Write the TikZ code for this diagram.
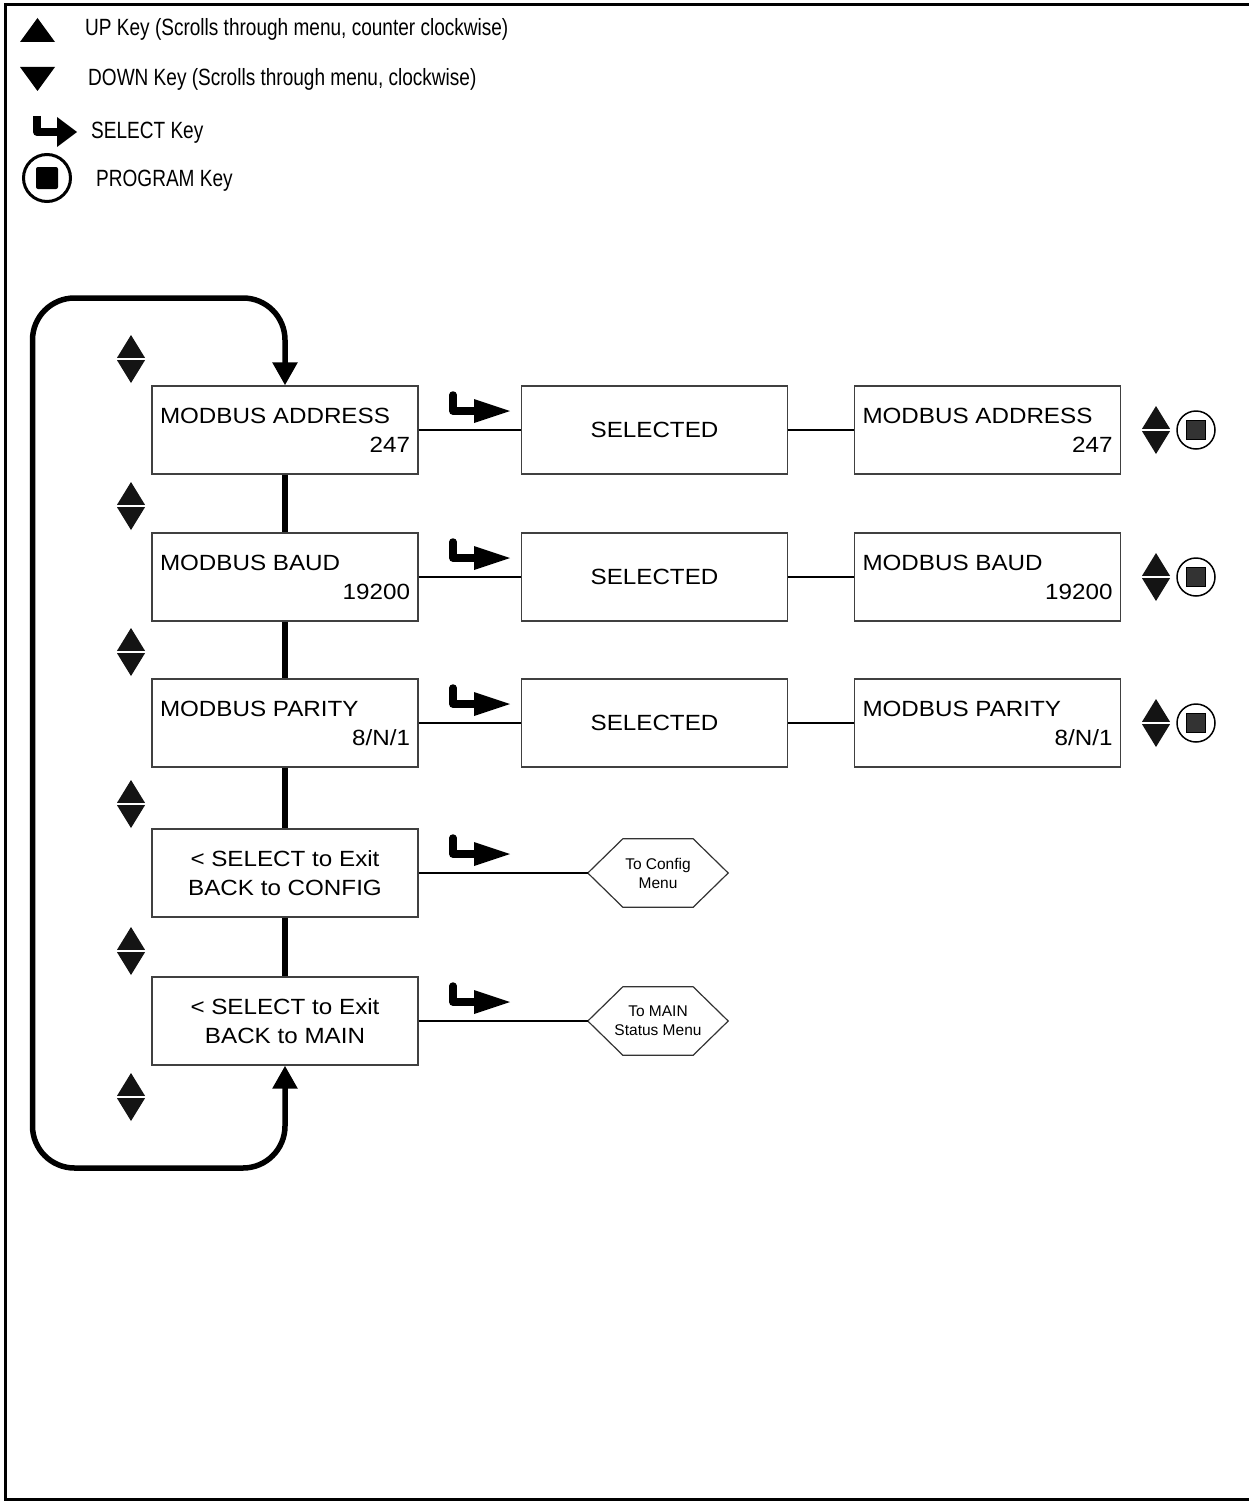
\documentclass[tikz,border=0pt]{standalone}
\usepackage{fontspec}
\setmainfont{Liberation Sans}
\newfontfamily\legfont[FakeStretch=0.81]{Liberation Sans}
\newfontfamily\boxfont[FakeStretch=1.1]{Liberation Sans}
\usetikzlibrary{arrows.meta}
\newcommand\boxlines[2]{\makebox[250pt][l]{#1}\\\makebox[250pt][r]{#2}}
\newcommand\updownkey[2]{%
  \fill[black!92] (#1-14,#2-1.2) -- (#1,#2-24) -- (#1+14,#2-1.2) -- cycle;
  \fill[black!92] (#1-14,#2+1.2) -- (#1,#2+24) -- (#1+14,#2+1.2) -- cycle;}
\newcommand\selkey[1]{%
  \draw[line width=7.5pt, line cap=round, line join=round] (453,#1-35) -- (453,#1-19) -- (476,#1-19);
  \fill (474,#1-31) -- (510,#1-19) -- (474,#1-7) -- cycle;}
\newcommand\progkey[1]{%
  \draw[line width=1.5pt] (1196,#1) circle[radius=19pt];
  \filldraw[fill=black!80, draw=black, line width=0.8pt] (1186.5,#1-9.5) rectangle (1205.5,#1+9.5);}
\begin{document}
\begin{tikzpicture}[x=1pt,y=-1pt,
  menubox/.style={draw=black!75, line width=1.3pt, minimum width=266pt, minimum height=88pt,
    inner sep=0pt, align=center, font=\boxfont\fontsize{22}{29}\selectfont},
  hexnode/.style={minimum width=140pt, minimum height=68pt, inner sep=0pt, align=center,
    font=\fontsize{15.5}{19}\selectfont},
  thinline/.style={line width=1.2pt},
  thickline/.style={line width=5.5pt},
  legtext/.style={anchor=base west, inner sep=0pt, font=\legfont\fontsize{23.5}{26}\selectfont},
  bigtip/.tip={Triangle[length=23pt,width=24pt]}]
\useasboundingbox (0,0) rectangle (1249,1501);
% border
\draw[line width=3.3pt] (1249,4.3) -- (5.5,4.3) -- (5.5,1500) -- (1249,1500);
% legend
\fill (20,42) -- (37.5,18) -- (55,42) -- cycle;
\fill (20,67) -- (37.5,91) -- (55,67) -- cycle;
\draw[line width=8pt, line join=round] (37,116) -- (37,132) -- (58,132);
\fill (57,117) -- (77,132) -- (57,147) -- cycle;
\draw[line width=3pt] (47,178) circle[radius=23.5pt];
\fill[rounded corners=2pt] (36,167) rectangle (58,189);
\node[legtext] (lup) at (85,36) {UP Key (Scrolls through menu, counter clockwise)};
\node[legtext] (ldown) at (88,86) {DOWN Key (Scrolls through menu, clockwise)};
\node[legtext] (lsel) at (91,139) {SELECT Key};
\node[legtext] (lprog) at (96,186) {PROGRAM Key};
% left column
\node[menubox] (b1) at (285,430) {\boxlines{MODBUS ADDRESS}{247}};
\node[menubox] (b2) at (285,577) {\boxlines{MODBUS BAUD}{19200}};
\node[menubox] (b3) at (285,723) {\boxlines{MODBUS PARITY}{8/N/1}};
\node[menubox] (b4) at (285,873) {{\textless} SELECT to Exit\\BACK to CONFIG};
\node[menubox] (b5) at (285,1021) {{\textless} SELECT to Exit\\BACK to MAIN};
% middle column
\node[menubox] (s1) at (654.5,430) {SELECTED};
\node[menubox] (s2) at (654.5,577) {SELECTED};
\node[menubox] (s3) at (654.5,723) {SELECTED};
% right column
\node[menubox] (r1) at (987.5,430) {\boxlines{MODBUS ADDRESS}{247}};
\node[menubox] (r2) at (987.5,577) {\boxlines{MODBUS BAUD}{19200}};
\node[menubox] (r3) at (987.5,723) {\boxlines{MODBUS PARITY}{8/N/1}};
% hexagons
\node[hexnode] (h4) at (658,873) {To Config\\Menu};
\node[hexnode] (h5) at (658,1021) {To MAIN\\Status Menu};
\foreach \h in {h4,h5}{
  \draw[draw=black!80, line width=1.2pt] (\h.west) -- ([xshift=35pt]\h.north west) -- ([xshift=-35pt]\h.north east)
    -- (\h.east) -- ([xshift=-35pt]\h.south east) -- ([xshift=35pt]\h.south west) -- cycle;}
% thin connectors
\draw[thinline] (b1.east) -- (s1.west);
\draw[thinline] (s1.east) -- (r1.west);
\draw[thinline] (b2.east) -- (s2.west);
\draw[thinline] (s2.east) -- (r2.west);
\draw[thinline] (b3.east) -- (s3.west);
\draw[thinline] (s3.east) -- (r3.west);
\draw[thinline] (b4.east) -- (h4.west);
\draw[thinline] (b5.east) -- (h5.west);
% thick vertical connectors
\draw[thickline] (b1.south) -- (b2.north);
\draw[thickline] (b2.south) -- (b3.north);
\draw[thickline] (b3.south) -- (b4.north);
\draw[thickline] (b4.south) -- (b5.north);
% loop
\coordinate (lt) at (32.5,298);
\coordinate (lb) at (32.5,1168);
\draw[thickline, rounded corners=42pt, bigtip-bigtip] (b1.north) |- (lt) -- (lb) -| (b5.south);
% select keys
\selkey{430}
\selkey{577}
\selkey{723}
\selkey{873}
\selkey{1021}
% up/down keys
\foreach \yy in {359,506,652,804,951,1097}{\updownkey{131}{\yy}}
\foreach \yy in {430,577,723}{\updownkey{1156}{\yy}\progkey{\yy}}
\end{tikzpicture}
\end{document}
